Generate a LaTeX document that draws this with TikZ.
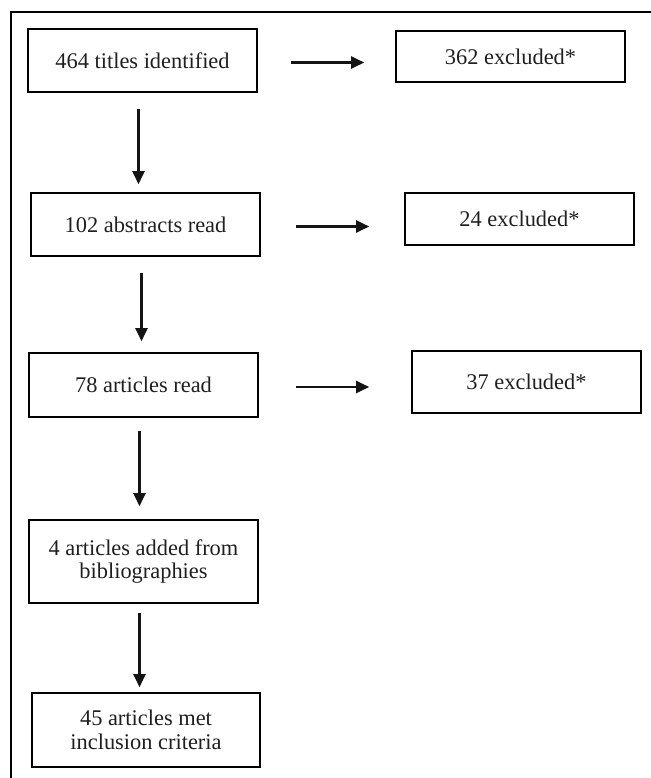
\documentclass[tikz,border=0pt]{standalone}
\usepackage{fontspec}
\setmainfont{Liberation Serif}
\usetikzlibrary{arrows.meta}
\tikzset{
  stage/.style={draw, line width=0.8pt, align=center, inner sep=0pt,
    font=\fontsize{11.2}{11.8}\selectfont, text=black!88},
  flowarrow/.style={-{Triangle[length=6.5pt,width=6pt]}, line width=1.1pt, black!92}
}
\begin{document}
\begin{tikzpicture}[
  x=0.5pt,
  y=-0.5pt
]
\useasboundingbox (0,0) rectangle (651,778);
\draw[line width=1.1pt] (651,12) -- (11,12) -- (11,778);

% main column
\node[stage, minimum width=114.5pt, minimum height=31.5pt] (titles)    at (142.5,60.5) {464 titles identified};
\node[stage, minimum width=114.5pt, minimum height=31.5pt] (abstracts) at (145.5,224.5) {102 abstracts read};
\node[stage, minimum width=114.5pt, minimum height=32pt]   (articles)  at (143.5,385) {78 articles read};
\node[stage, minimum width=114.5pt, minimum height=41.5pt] (biblio)    at (143.5,561.5) {4 articles added from\\bibliographies};
\node[stage, minimum width=114pt,   minimum height=37pt]   (included)  at (146,730) {45 articles met\\inclusion criteria};

% exclusions
\node[stage, minimum width=114.5pt, minimum height=25.5pt] (exclA) at (510.5,56.5) {362 excluded*};
\node[stage, minimum width=114.5pt, minimum height=26pt]   (exclB) at (519.5,219) {24 excluded*};
\node[stage, minimum width=114.5pt, minimum height=31pt]   (exclC) at (526.5,382) {37 excluded*};

\foreach \a/\b/\s/\e in {titles/abstracts/8/4,
                         abstracts/articles/8/5.5,
                         articles/biblio/6.5/6.5,
                         biblio/included/4.5/2.5}
  \draw[flowarrow, shorten <=\s pt, shorten >=\e pt]
    ([xshift=-2pt]\a.south) -- ([xshift=-2pt]\a.south |- \b.north);

\foreach \a/\b/\s/\e in {titles/exclA/16.5/15.5,
                         abstracts/exclB/17.5/17.5,
                         articles/exclC/18.5/21}
  \draw[flowarrow, shorten <=\s pt, shorten >=\e pt]
    ([yshift=-1pt]\a.east) -- ([yshift=-1pt]\a.east -| \b.west);

\end{tikzpicture}
\end{document}
